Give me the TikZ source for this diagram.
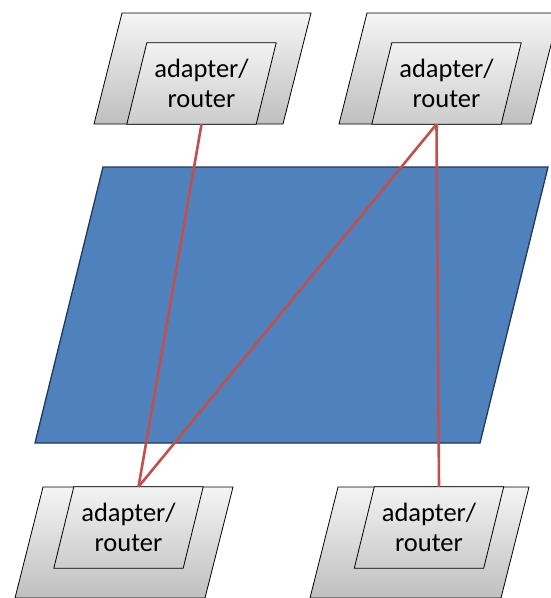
\documentclass[tikz,border=0pt]{standalone}
\usepackage{fontspec}
\setmainfont{Carlito}
\usetikzlibrary{backgrounds}

\begin{document}
\begin{tikzpicture}[x=1pt, y=-1pt, font=\fontsize{26.5}{30}\selectfont]
 % --- スタイル ---
 \tikzset{
    outerbox/.style={
        draw=black,
        line width=0.8pt,
        top color=gray!8,
        bottom color=gray!50
    },
    innerbox/.style={
        draw=black,
        line width=0.8pt,
        top color=gray!10,
        bottom color=gray!40
    },
    label/.style={
        rectangle,
        minimum width=109pt,
        minimum height=81pt,
        inner sep=0pt,
        align=center
    },
    network/.style={
        draw={rgb,255:red,31;green,56;blue,96},
        line width=1.3pt,
        fill={rgb,255:red,79;green,129;blue,189}
    },
    link/.style={
        line width=2.6pt,
        draw={rgb,255:red,192;green,80;blue,77}
    }
 }
 \useasboundingbox (0,0) rectangle (551,598);

 % --- adapter/router ---
 \node[label] (ar1) at (201.5,83.5) {adapter/\\router};
 \node[label] (ar2) at (446.5,83.5) {adapter/\\router};
 \node[label] (ar3) at (128.5,527.5) {adapter/\\router};
 \node[label] (ar4) at (429,527.5) {adapter/\\router};

 \begin{scope}[on background layer]
    % 外側の枠
    \path[outerbox] (122,13) -- (311,13) -- (283,124) -- (94,124) -- cycle;
    \path[outerbox] (367,13) -- (559,13) -- (531,124) -- (339,124) -- cycle;
    \path[outerbox] (43,487) -- (233,487) -- (205,598) -- (15,598) -- cycle;
    \path[outerbox] (338,487) -- (529,487) -- (501,598) -- (310,598) -- cycle;

    % ネットワーク
    \path[network] (103,167) -- (548,167) -- (480,443) -- (35,443) -- cycle;

    % 内側の枠
    \foreach \n in {ar1,ar2,ar3,ar4}
       \path[innerbox] (\n.north west) -- ([xshift=20pt]\n.north east)
           -- (\n.south east) -- ([xshift=-20pt]\n.south west) -- cycle;
 \end{scope}

 % --- 接続 ---
 \draw[link] (ar1.south) -- ([xshift=10pt]ar3.north);
 \draw[link] ([xshift=-10pt]ar2.south) -- ([xshift=10pt]ar3.north);
 \draw[link] ([xshift=-10pt]ar2.south) -- ([xshift=10pt]ar4.north);
\end{tikzpicture}
\end{document}
